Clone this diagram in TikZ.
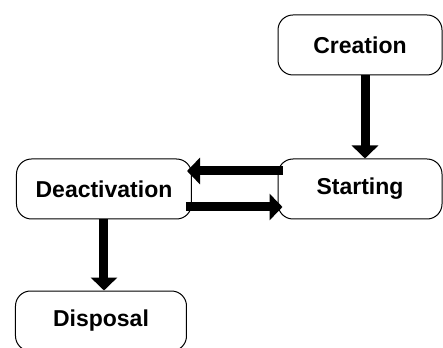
\documentclass[tikz,border=0pt]{standalone}
\usepackage{fontspec}
\setmainfont{Liberation Sans}
\usepackage{tikz}
\usetikzlibrary{arrows.meta}
\usetikzlibrary{positioning}

\begin{document}
\begin{tikzpicture}
        [x=1pt, y=1pt,
         state/.style={draw, line width=1pt, rounded corners=15pt, minimum height=60pt,
                       font=\fontsize{23}{28}\selectfont\bfseries},
         flow/.style={line width=9pt, -{Triangle[length=13pt,width=26pt]}}]
        \useasboundingbox (-360,-158) rectangle (83,189);
        \node [state, minimum width=164pt] (starting) {Starting};
        \node [state, minimum width=164pt, above of=starting, node distance=144pt] (creation) {Creation};
        \node [state, minimum width=175pt, left of=starting, node distance=256pt] (deact) {Deactivation};
        \node [state, minimum width=171pt, below of=deact, node distance=132pt, xshift=-3pt] (disposal) {Disposal};

        \draw [flow] ([xshift=5pt]creation.south) -- ([xshift=5pt]starting.north);
        \draw [flow] ([xshift=5pt, yshift=18pt]starting.west) -- ([xshift=-5pt, yshift=18pt]deact.east);
        \draw [flow] ([xshift=-6pt, yshift=-18pt]deact.east) -- ([xshift=5pt, yshift=-18pt]starting.west);
        \draw [flow] (deact.south) -- (deact.south |- disposal.north);
    \end{tikzpicture}
\end{document}
